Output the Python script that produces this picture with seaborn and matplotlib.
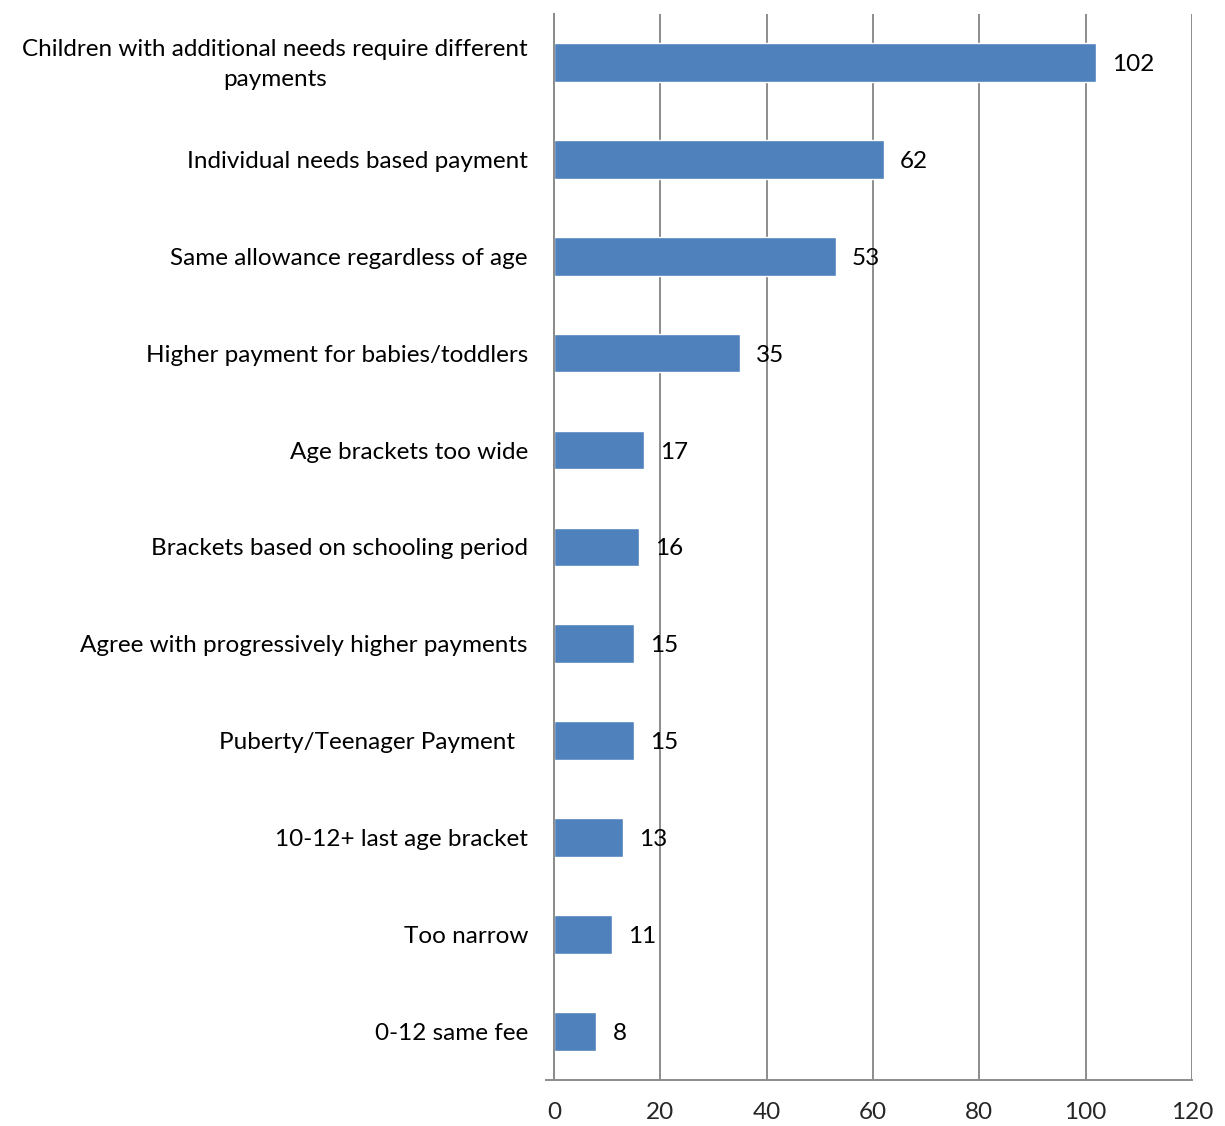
import pandas as pd
import numpy as np
import matplotlib.pyplot as plt
import matplotlib.transforms as mtransforms
import seaborn as sns

# Dane
categories = [
    'Children with additional needs require different\npayments',
    'Individual needs based payment',
    'Same allowance regardless of age',
    'Higher payment for babies/toddlers',
    'Age brackets too wide',
    'Brackets based on schooling period',
    'Agree with progressively higher payments',
    'Puberty/Teenager Payment  ',
    '10-12+ last age bracket',
    'Too narrow',
    '0-12 same fee',
]
counts = [102, 62, 53, 35, 17, 16, 15, 15, 13, 11, 8]
x_ticks = [0, 20, 40, 60, 80, 100, 120]

df = pd.DataFrame({'category': categories, 'count': counts})

sns.set_style('white')
FS = 17.5
plt.rcParams['font.family'] = ['Lato', 'DejaVu Sans']
plt.rcParams['xtick.labelsize'] = FS
plt.rcParams['ytick.labelsize'] = FS

fig = plt.figure(figsize=(12.25, 11.26), dpi=100)
ax = fig.add_axes([0.4457, 0.041, 0.5273, 0.9466])

for t in x_ticks:
    ax.axvline(t, color='#8c8c8c', linewidth=1.4, zorder=0)

sns.barplot(data=df, x='count', y='category', orient='h', color='#4F81BD',
            saturation=1, width=0.4, ax=ax, zorder=2)

# Etykiety wartości
for i, v in enumerate(counts):
    ax.text(v + 3.0, i, str(v), va='center_baseline', ha='left', fontsize=FS, color='black')

ax.set_xlim(-1.5, 120)
ax.set_ylim(len(categories) - 0.5, -0.5)
ax.set_xticks(x_ticks)
ax.set_xticklabels([str(t) for t in x_ticks])
ax.set_yticks(range(len(categories)))
ax.set_yticklabels([])
ax.set_yticks(np.arange(-0.5, len(categories), 1.0), minor=True)
ax.tick_params(axis='x', which='major', labelsize=FS)
ax.tick_params(axis='y', which='major', length=0)
ax.tick_params(axis='y', which='minor', length=6, color='#8c8c8c', width=1.4, direction='out')
ax.tick_params(axis='x', which='major', length=6, color='#8c8c8c', width=1.4, direction='out', pad=10)
ax.set_xlabel('')
ax.set_ylabel('')

# Etykiety kategorii (wyśrodkowane wiersze)
lab_tr = mtransforms.offset_copy(ax.get_yaxis_transform(), fig=fig, x=-18, y=-2, units='dots')
for i, c in enumerate(categories):
    ax.text(0, i, c, transform=lab_tr, ha='right', va='center', multialignment='center',
            fontsize=FS, linespacing=1.55, color='black')

for s in ['top', 'right']:
    ax.spines[s].set_visible(False)
ax.spines['left'].set_position(('data', 0))
for s in ['left', 'bottom']:
    ax.spines[s].set_color('#8c8c8c')
    ax.spines[s].set_linewidth(1.4)

plt.savefig('out.png', dpi=100)
